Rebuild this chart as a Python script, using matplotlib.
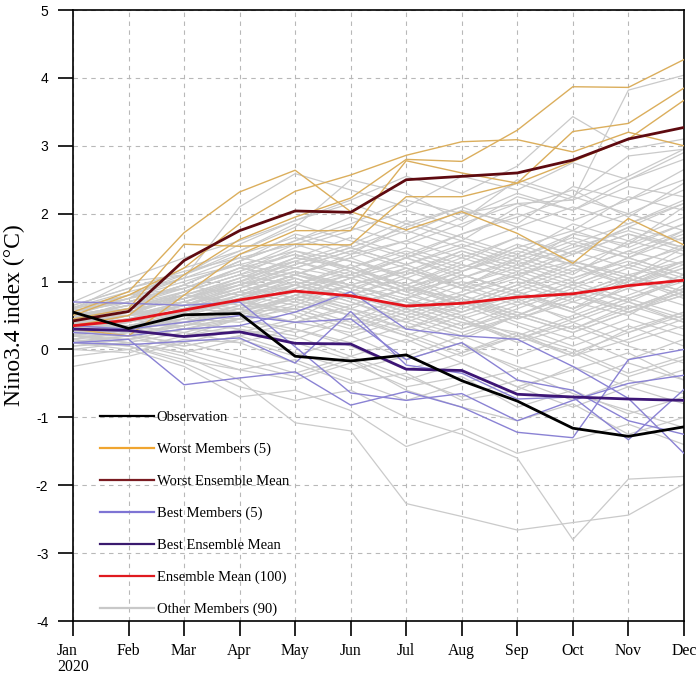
import matplotlib
matplotlib.use("Agg")
import matplotlib.pyplot as plt
from matplotlib.lines import Line2D

months = ["Jan\n2020", "Feb", "Mar", "Apr", "May", "Jun",
          "Jul", "Aug", "Sep", "Oct", "Nov", "Dec"]

observation = [0.55, 0.31, 0.51, 0.53, -0.10, -0.17, -0.08, -0.46, -0.76, -1.16, -1.28, -1.14]
ensemble_mean = [0.35, 0.43, 0.58, 0.73, 0.86, 0.79, 0.64, 0.68, 0.77, 0.82, 0.94, 1.02]
worst_mean = [0.42, 0.56, 1.31, 1.75, 2.04, 2.02, 2.50, 2.55, 2.60, 2.79, 3.10, 3.27]
best_mean = [0.30, 0.28, 0.19, 0.26, 0.09, 0.08, -0.29, -0.31, -0.66, -0.70, -0.73, -0.75]

worst_members = [
    [0.55, 0.85, 1.72, 2.32, 2.64, 2.03, 1.76, 2.03, 1.71, 1.27, 1.93, 1.54],
    [0.50, 0.80, 1.20, 1.85, 2.33, 2.57, 2.86, 3.06, 3.09, 2.91, 3.20, 3.00],
    [0.35, 0.50, 1.10, 1.62, 1.95, 2.23, 2.80, 2.77, 3.23, 3.87, 3.86, 4.27],
    [0.45, 0.60, 1.55, 1.52, 1.55, 1.54, 2.25, 2.25, 2.45, 3.21, 3.33, 3.85],
    [0.30, 0.20, 0.80, 1.40, 1.75, 1.75, 2.78, 2.60, 2.45, 2.77, 3.10, 3.67],
]

best_members = [
    [0.70, 0.68, 0.65, 0.70, 0.04, -0.64, -0.75, -0.65, -1.05, -0.75, -0.50, -0.38],
    [0.10, 0.15, -0.52, -0.42, -0.33, -0.82, -0.62, -0.85, -1.22, -1.30, -0.15, 0.00],
    [0.25, 0.20, 0.30, 0.35, 0.55, 0.85, 0.30, 0.20, 0.15, -0.25, -0.72, -1.53],
    [0.35, 0.30, 0.40, 0.50, 0.40, 0.45, -0.15, 0.10, -0.45, -0.60, -1.05, -1.25],
    [0.10, 0.07, 0.12, 0.17, -0.20, 0.56, -0.23, -0.35, -0.73, -0.70, -1.33, -0.59],
]

other_members = [
    [0.45, 0.60, 0.85, 1.10, 1.45, 1.30, 1.10, 1.45, 1.20, 1.70, 1.55, 2.10],
    [0.30, 0.35, 0.40, 0.55, 0.60, 0.35, 0.10, 0.40, 0.25, -0.10, 0.30, 0.55],
    [0.20, 0.15, 0.30, 0.25, 0.45, 0.85, 1.20, 0.90, 1.35, 1.10, 1.60, 1.40],
    [0.55, 0.70, 0.95, 1.30, 1.60, 1.95, 1.70, 2.05, 1.85, 2.40, 2.20, 2.65],
    [0.10, 0.05, -0.15, -0.30, -0.45, -0.20, -0.55, -0.40, -0.85, -0.60, -0.95, -0.70],
    [0.38, 0.50, 0.65, 0.90, 1.15, 0.95, 0.70, 0.55, 0.85, 0.60, 1.05, 0.80],
    [0.62, 0.85, 1.05, 1.25, 1.10, 1.40, 1.85, 1.60, 2.10, 2.35, 1.95, 2.45],
    [0.25, 0.30, 0.20, 0.45, 0.80, 0.55, 0.30, 0.65, 0.95, 1.30, 1.05, 1.50],
    [0.00, -0.05, 0.15, 0.10, -0.20, -0.50, -0.35, -0.75, -0.60, -0.25, -0.55, -0.30],
    [0.48, 0.55, 0.75, 1.00, 1.35, 1.20, 1.50, 1.25, 1.05, 1.45, 1.80, 1.60],
    [0.35, 0.45, 0.70, 0.60, 0.95, 1.25, 0.90, 0.75, 0.45, 0.70, 0.50, 0.95],
    [0.15, 0.25, 0.50, 0.80, 0.65, 0.40, 0.75, 1.10, 0.85, 0.55, 0.95, 1.25],
    [0.55, 0.75, 1.20, 1.45, 1.85, 1.60, 1.35, 1.70, 2.00, 1.75, 2.25, 2.05],
    [0.40, 0.35, 0.55, 0.75, 0.50, 0.20, -0.15, 0.10, -0.30, -0.05, -0.40, -0.15],
    [0.28, 0.40, 0.60, 0.85, 1.05, 0.80, 1.05, 0.70, 0.40, 0.15, 0.45, 0.20],
    [0.60, 0.80, 0.90, 1.15, 1.50, 1.75, 2.05, 1.80, 2.25, 2.05, 2.50, 2.80],
    [-0.25, -0.10, 0.10, 0.30, 0.15, 0.45, 0.20, 0.50, 0.75, 0.40, 0.70, 0.45],
    [0.32, 0.45, 0.40, 0.65, 0.90, 1.10, 0.85, 1.15, 1.45, 1.25, 0.95, 1.30],
    [0.50, 0.65, 0.80, 0.70, 0.85, 0.60, 0.40, 0.15, 0.50, 0.85, 0.60, 0.90],
    [0.20, 0.20, 0.35, 0.45, 0.30, 0.10, 0.35, 0.05, -0.25, -0.50, -0.20, -0.45],
    [0.45, 0.55, 0.75, 1.05, 1.25, 1.50, 1.25, 0.95, 1.20, 1.55, 1.35, 1.75],
    [0.35, 0.50, 0.85, 1.20, 1.40, 1.20, 0.95, 1.30, 1.65, 1.40, 1.80, 2.15],
    [0.10, 0.15, 0.05, 0.20, 0.40, 0.25, 0.55, 0.30, 0.60, 0.90, 0.70, 1.05],
    [0.58, 0.70, 0.95, 0.80, 1.10, 0.90, 1.15, 1.45, 1.20, 0.95, 1.25, 1.00],
    [0.25, 0.35, 0.45, 0.60, 0.75, 0.50, 0.20, -0.10, 0.20, -0.05, 0.25, 0.55],
    [0.40, 0.60, 0.70, 0.95, 1.30, 1.55, 1.90, 1.65, 1.40, 1.85, 1.60, 1.95],
    [0.20, 0.10, -0.05, 0.15, -0.10, 0.20, 0.45, 0.20, 0.50, 0.25, 0.55, 0.80],
    [0.65, 0.90, 1.10, 1.40, 1.65, 1.40, 1.60, 1.95, 2.30, 2.05, 2.40, 2.25],
    [0.30, 0.25, 0.45, 0.40, 0.65, 0.95, 0.70, 0.45, 0.10, 0.35, 0.05, -0.20],
    [0.45, 0.50, 0.65, 0.85, 0.70, 0.95, 1.20, 0.90, 0.65, 0.95, 1.25, 1.50],
    [0.15, 0.30, 0.55, 0.75, 1.00, 0.75, 0.50, 0.80, 1.10, 0.80, 0.60, 0.85],
    [0.52, 0.60, 0.70, 1.00, 1.20, 1.05, 0.80, 0.60, 0.90, 1.20, 0.95, 1.20],
    [0.35, 0.45, 0.30, 0.50, 0.75, 1.05, 1.35, 1.10, 0.85, 1.15, 1.45, 1.25],
    [0.00, 0.10, 0.25, 0.10, 0.30, 0.05, -0.30, -0.05, 0.25, 0.00, -0.35, -0.10],
    [0.48, 0.65, 0.90, 1.20, 1.55, 1.30, 1.05, 1.35, 1.10, 1.40, 1.70, 1.45],
    [0.25, 0.40, 0.60, 0.55, 0.40, 0.65, 0.90, 0.65, 0.95, 0.70, 1.00, 1.30],
    [0.38, 0.30, 0.50, 0.70, 0.95, 0.70, 0.45, 0.75, 0.50, 0.25, 0.55, 0.30],
    [0.70, 1.05, 1.35, 1.60, 1.90, 2.15, 1.85, 2.10, 2.45, 2.20, 2.55, 2.95],
    [0.20, 0.35, 0.25, 0.45, 0.60, 0.35, 0.65, 0.40, 0.15, 0.45, 0.75, 0.50],
    [0.42, 0.55, 0.80, 0.65, 0.90, 1.15, 0.85, 1.05, 1.35, 1.65, 1.40, 1.70],
    [0.30, 0.45, 0.55, 0.80, 1.10, 0.85, 0.60, 0.30, 0.55, 0.30, 0.60, 0.90],
    [0.55, 0.50, 0.65, 0.90, 1.25, 1.50, 1.25, 1.55, 1.30, 1.05, 1.35, 1.10],
    [0.12, 0.20, 0.40, 0.30, 0.10, -0.15, -0.45, -0.20, -0.55, -0.85, -0.55, -0.80],
    [0.35, 0.55, 0.75, 1.00, 0.85, 1.10, 1.40, 1.15, 1.50, 1.75, 1.50, 1.85],
    [0.45, 0.40, 0.60, 0.80, 1.00, 0.75, 0.95, 0.70, 0.45, 0.75, 1.05, 0.75],
    [0.25, 0.30, 0.45, 0.65, 0.55, 0.80, 0.60, 0.85, 1.15, 0.90, 1.20, 1.00],
    [0.60, 0.75, 1.00, 1.25, 1.45, 1.20, 0.90, 1.20, 1.55, 1.30, 1.05, 1.40],
    [-0.10, 0.00, 0.20, 0.35, 0.20, -0.10, -0.40, -0.70, -0.45, -0.75, -0.45, -0.65],
    [0.40, 0.50, 0.70, 0.55, 0.80, 1.05, 1.35, 1.60, 1.35, 1.70, 2.00, 1.75],
    [0.30, 0.40, 0.55, 0.75, 1.05, 0.80, 0.55, 0.80, 0.55, 0.30, 0.65, 0.40],
    [0.50, 0.65, 0.85, 1.10, 0.95, 1.20, 0.95, 0.65, 0.95, 1.25, 1.00, 1.30],
    [0.22, 0.35, 0.50, 0.45, 0.70, 0.50, 0.75, 0.50, 0.20, 0.50, 0.80, 1.10],
    [0.45, 0.60, 0.80, 1.05, 1.35, 1.65, 1.40, 1.70, 1.95, 2.25, 2.00, 2.35],
    [0.35, 0.30, 0.45, 0.60, 0.40, 0.60, 0.30, 0.55, 0.80, 0.55, 0.25, 0.50],
    [0.15, 0.25, 0.35, 0.55, 0.80, 0.60, 0.90, 0.65, 0.35, 0.05, 0.35, 0.05],
    [0.55, 0.70, 0.90, 1.20, 1.05, 0.80, 1.10, 1.40, 1.15, 1.45, 1.20, 1.55],
    [0.28, 0.45, 0.65, 0.95, 1.20, 1.45, 1.20, 0.95, 1.25, 1.00, 1.35, 1.65],
    [0.40, 0.55, 0.50, 0.70, 0.55, 0.30, 0.60, 0.35, 0.65, 0.95, 0.70, 0.40],
    [0.05, 0.15, 0.30, 0.45, 0.25, 0.50, 0.25, -0.05, 0.20, -0.10, 0.15, 0.45],
    [0.62, 0.80, 1.05, 1.35, 1.20, 1.45, 1.75, 1.50, 1.80, 1.55, 1.85, 2.15],
    [0.35, 0.50, 0.70, 0.90, 1.15, 0.90, 0.65, 0.95, 0.70, 1.00, 0.75, 1.05],
    [0.45, 0.55, 0.60, 0.85, 1.10, 1.35, 1.05, 0.80, 0.50, 0.80, 0.55, 0.85],
    [0.20, 0.30, 0.55, 0.70, 0.95, 0.70, 0.40, 0.70, 1.00, 0.75, 1.05, 0.80],
    [0.50, 0.60, 0.80, 1.00, 1.30, 1.10, 1.35, 1.05, 1.30, 1.60, 1.35, 1.10],
    [0.30, 0.35, 0.35, 0.55, 0.80, 1.05, 0.80, 1.10, 0.85, 0.60, 0.90, 1.20],
    [0.40, 0.55, 0.75, 0.95, 0.75, 0.50, 0.75, 0.45, 0.15, 0.40, 0.10, 0.35],
    [0.25, 0.40, 0.65, 0.85, 1.10, 1.35, 1.60, 1.35, 1.65, 1.40, 1.70, 1.50],
    [0.20, 0.10, -0.10, -0.45, -1.08, -1.20, -2.27, -2.46, -2.66, -2.55, -2.44, -1.98],
    [0.15, 0.05, -0.20, -0.55, -0.75, -0.60, -1.00, -1.25, -1.60, -2.80, -1.91, -1.87],
    [0.10, 0.00, -0.25, -0.70, -0.60, -0.90, -1.43, -1.16, -1.53, -1.33, -1.10, -1.40],
    [0.55, 0.80, 1.10, 1.55, 1.90, 2.20, 2.55, 2.30, 2.70, 3.43, 2.95, 3.10],
    [0.45, 0.70, 0.95, 1.30, 1.60, 1.85, 2.20, 2.00, 2.15, 2.20, 3.82, 4.04],
    [0.50, 0.75, 1.05, 2.10, 2.59, 2.35, 2.10, 2.55, 2.35, 2.75, 2.50, 2.90],
    [0.60, 1.00, 1.10, 1.45, 1.80, 2.50, 2.30, 1.90, 2.50, 2.25, 2.85, 2.95],
    [0.38, 0.20, 0.00, -0.20, -0.40, -0.15, -0.60, -0.85, -1.05, -0.80, -1.25, -1.00],
    [0.05, 0.10, -0.05, -0.30, -0.15, -0.45, -0.75, -0.50, -0.30, -0.65, -0.90, -1.15],
    [0.25, 0.20, 0.10, -0.10, -0.35, -0.10, 0.15, -0.20, -0.55, -0.30, -0.05, -0.45],
    [0.15, 0.25, 0.05, 0.20, -0.05, -0.30, -0.10, 0.20, -0.10, 0.20, -0.15, 0.15],
    [0.35, 0.45, 0.65, 0.85, 1.10, 0.95, 1.15, 0.90, 1.10, 1.30, 1.10, 1.30],
    [0.50, 0.65, 0.75, 0.95, 1.15, 0.95, 0.75, 1.00, 0.80, 1.05, 1.30, 1.05],
    [0.30, 0.50, 0.80, 1.05, 1.35, 1.20, 0.95, 1.25, 1.05, 0.80, 1.10, 0.85],
    [0.45, 0.65, 0.95, 1.30, 1.70, 1.50, 1.80, 2.10, 1.80, 2.10, 1.85, 2.20],
    [0.22, 0.30, 0.40, 0.60, 0.85, 0.65, 0.90, 1.15, 1.40, 1.15, 1.45, 1.75],
    [0.55, 0.75, 0.90, 1.15, 1.40, 1.15, 0.85, 0.55, 0.85, 0.60, 0.90, 0.65],
    [0.35, 0.40, 0.60, 0.75, 0.95, 1.20, 1.45, 1.20, 1.50, 1.25, 1.55, 1.85],
    [0.40, 0.50, 0.55, 0.70, 0.60, 0.85, 0.55, 0.80, 1.05, 0.80, 1.10, 0.85],
    [0.10, 0.20, 0.35, 0.55, 0.75, 0.95, 0.70, 0.45, 0.70, 0.45, 0.75, 1.00],
    [0.65, 0.90, 1.15, 1.35, 1.55, 1.80, 1.55, 1.85, 2.15, 1.90, 2.20, 2.50],
    [0.30, 0.35, 0.50, 0.80, 0.95, 0.75, 0.50, 0.25, 0.50, 0.80, 0.55, 0.80],
    [0.45, 0.60, 0.85, 1.10, 1.30, 1.05, 1.25, 1.50, 1.25, 1.50, 1.75, 1.50],
]

legend_labels = ["Observation", "Worst Members (5)", "Worst Ensemble Mean",
                 "Best Members (5)", "Best Ensemble Mean", "Ensemble Mean (100)",
                 "Other Members (90)"]

serif = "Liberation Serif"
sans = "Liberation Sans"

fig = plt.figure(figsize=(6.99, 6.77), dpi=100)
ax = fig.add_axes([0.1044, 0.0827, 0.874, 0.9025])

x = list(range(len(months)))

# --- ensemble spaghetti ---
for row in other_members:
    ax.plot(x, row, color="#cacaca", lw=0.9, zorder=2)
for row in worst_members:
    ax.plot(x, row, color="#dbae5c", lw=1.0, zorder=3)
for row in best_members:
    ax.plot(x, row, color="#8a82d4", lw=1.0, zorder=3)

# --- highlighted curves ---
ax.plot(x, worst_mean, color="#5e0a10", lw=2.0, zorder=5)
ax.plot(x, best_mean, color="#3d1676", lw=2.0, zorder=5)
ax.plot(x, ensemble_mean, color="#e3141c", lw=2.0, zorder=6)
ax.plot(x, observation, color="black", lw=2.0, zorder=7)

ax.set_xlim(0, 11)
ax.set_ylim(-4, 5)
ax.set_xticks(x)
ax.set_xticklabels(months, fontfamily=serif, fontsize=11.3,
                   multialignment="left", linespacing=1.0)
ax.set_yticks(range(-4, 6))
ax.set_yticklabels([str(v) for v in range(-4, 6)], fontfamily=sans, fontsize=10)

ax.tick_params(axis="both", direction="out", length=10.8, width=1.2, colors="black")
ax.tick_params(axis="x", pad=5)
ax.tick_params(axis="y", pad=7)
ax.grid(True, color="#b8b8b8", lw=0.8, linestyle=(0, (4, 4)))
ax.set_axisbelow(True)
for sp in ax.spines.values():
    sp.set_linewidth(1.2)
    sp.set_color("black")

ax.set_ylabel("Nino3.4 index (°C)", fontfamily=serif, fontsize=17)
ax.yaxis.set_label_coords(-0.078, 0.5)

handles = [
    Line2D([], [], color="black", lw=1.6),
    Line2D([], [], color="#f0a530", lw=1.6),
    Line2D([], [], color="#7a1c22", lw=1.6),
    Line2D([], [], color="#7e74d4", lw=1.6),
    Line2D([], [], color="#3a1a6e", lw=1.6),
    Line2D([], [], color="#e01a1f", lw=1.6),
    Line2D([], [], color="#c8c8c8", lw=1.6),
]
ax.legend(handles, legend_labels, loc="lower left", bbox_to_anchor=(0.044, 0.008),
          frameon=False, prop={"family": serif, "size": 10.5},
          handlelength=3.7, handletextpad=0.2, labelspacing=1.28,
          borderpad=0, borderaxespad=0)

fig.savefig("out.png", dpi=100)
